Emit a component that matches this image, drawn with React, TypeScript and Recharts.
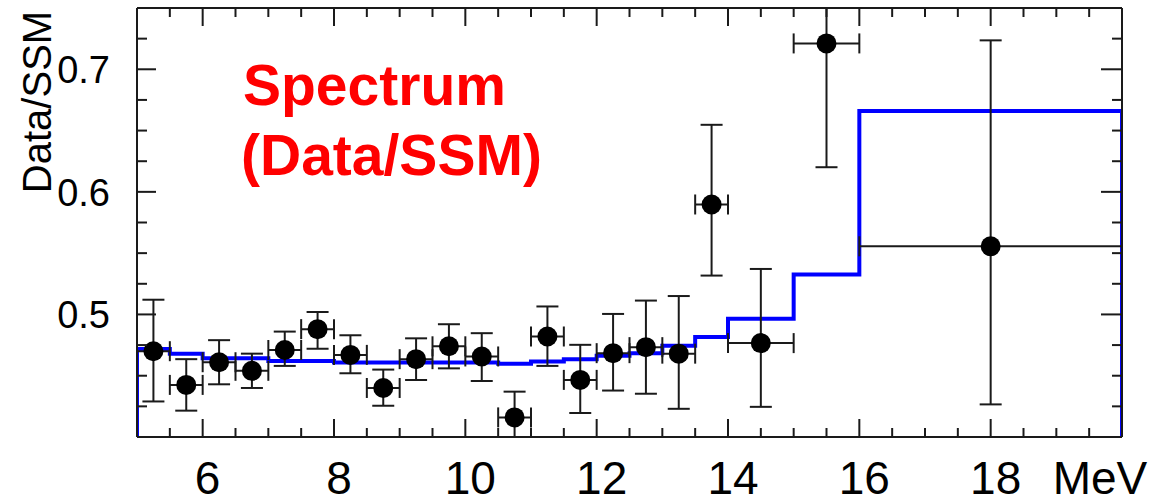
import {
  ComposedChart, Line, Scatter, ErrorBar, XAxis, YAxis,
} from 'recharts'

// energy bins (MeV) and measured Data/SSM ratio
const binCenters = [5.25, 5.75, 6.25, 6.75, 7.25, 7.75, 8.25, 8.75, 9.25, 9.75, 10.25, 10.75, 11.25, 11.75, 12.25, 12.75, 13.25, 13.75, 14.5, 15.5, 18]
const binHalfWidths = [0.25, 0.25, 0.25, 0.25, 0.25, 0.25, 0.25, 0.25, 0.25, 0.25, 0.25, 0.25, 0.25, 0.25, 0.25, 0.25, 0.25, 0.25, 0.5, 0.5, 2]
const ratio = [0.470, 0.4425, 0.461, 0.454, 0.471, 0.488, 0.467, 0.440, 0.4635, 0.474, 0.4657, 0.416, 0.482, 0.4466, 0.4684, 0.4733, 0.468, 0.5897, 0.4766, 0.7211, 0.5556]
const errLow = [0.041, 0.021, 0.018, 0.014, 0.013, 0.016, 0.015, 0.0145, 0.017, 0.018, 0.020, 0.021, 0.024, 0.027, 0.0305, 0.038, 0.045, 0.058, 0.052, 0.101, 0.129]
const errHigh = [0.042, 0.021, 0.018, 0.014, 0.015, 0.014, 0.016, 0.015, 0.017, 0.018, 0.019, 0.021, 0.0245, 0.0286, 0.032, 0.038, 0.047, 0.065, 0.0605, 0.10, 0.168]

// SSM expectation histogram (bin lower edges + value)
const ssmEdges = [5, 5.5, 6, 6.5, 7, 7.5, 8, 8.5, 9, 9.5, 10, 10.5, 11, 11.5, 12, 12.5, 13, 13.5, 14, 15, 16]
const ssmValues = [0.4717, 0.4679, 0.4643, 0.4643, 0.4621, 0.4621, 0.4608, 0.4608, 0.4608, 0.4608, 0.4608, 0.4597, 0.4615, 0.4635, 0.4662, 0.4684, 0.4744, 0.4815, 0.4965, 0.5325, 0.666]

const xDomain = [5, 20]
const yDomain = [0.4, 0.75]
const xTicks = [5.5, 6, 6.5, 7, 7.5, 8, 8.5, 9, 9.5, 10, 10.5, 11, 11.5, 12, 12.5, 13, 13.5, 14, 14.5, 15, 15.5, 16, 16.5, 17, 17.5, 18, 18.5, 19, 19.5]
const xLabels = [6, 8, 10, 12, 14, 16, 18]
const yTicks = [0.425, 0.45, 0.475, 0.5, 0.525, 0.55, 0.575, 0.6, 0.625, 0.65, 0.675, 0.7, 0.725]
const yLabels = [0.5, 0.6, 0.7]

// error bars stop at the frame, like the original plot
const points = binCenters.map((x, i) => ({
  x,
  y: ratio[i],
  ex: binHalfWidths[i],
  ey: [Math.min(errLow[i], ratio[i] - yDomain[0]), Math.min(errHigh[i], yDomain[1] - ratio[i])],
}))

const ssmLine = [
  { x: xDomain[0], y: yDomain[0] },
  ...ssmEdges.map((e, i) => ({ x: e, y: ssmValues[i] })),
  { x: xDomain[1], y: ssmValues[ssmValues.length - 1] },
  { x: xDomain[1], y: yDomain[0] },
]

const FONT = '"Liberation Sans", Arial, sans-serif'
const INK = '#1a1a1a'
const isLabelY = (v: number) => yLabels.some(l => Math.abs(l - v) < 1e-6)

const BottomTick = ({ x, y, payload }: any) => {
  const major = xLabels.includes(payload.value)
  return (
    <g>
      <line x1={x} y1={y} x2={x} y2={y - (major ? 18 : 9)} stroke={INK} strokeWidth={2} />
      {major && (
        <text x={x + 5} y={y + 57} textAnchor="middle" fontSize={46} fontFamily={FONT} fill="#000">
          {payload.value}
        </text>
      )}
    </g>
  )
}

const TopTick = ({ x, y, payload }: any) => {
  const major = xLabels.includes(payload.value)
  return <line x1={x} y1={y} x2={x} y2={y + (major ? 18 : 9)} stroke={INK} strokeWidth={2} />
}

const LeftTick = ({ x, y, payload }: any) => {
  const major = isLabelY(payload.value)
  return (
    <g>
      <line x1={x} y1={y} x2={x + (major ? 19 : 10)} y2={y} stroke={INK} strokeWidth={2} />
      {major && (
        <text x={x - 27} y={y} dy="0.36em" textAnchor="end" fontSize={38} fontFamily={FONT} fill="#000">
          {payload.value.toFixed(1)}
        </text>
      )}
    </g>
  )
}

const RightTick = ({ x, y, payload }: any) => {
  const major = isLabelY(payload.value)
  return <line x1={x} y1={y} x2={x - (major ? 21 : 10)} y2={y} stroke={INK} strokeWidth={2} />
}

export default function App() {
  return (
    <div style={{ position: 'absolute', left: 0, top: 0, width: 1173, height: 504, background: '#fff' }}>
      <ComposedChart width={1173} height={504} margin={{ top: 7, right: 50, bottom: 66, left: 136 }}>
        <XAxis xAxisId="b" dataKey="x" type="number" domain={xDomain} allowDataOverflow ticks={xTicks}
          interval={0} height={1} tickSize={0} tickMargin={0} tick={<BottomTick />}
          axisLine={{ stroke: INK, strokeWidth: 2 }} />
        <XAxis xAxisId="t" dataKey="x" type="number" orientation="top" domain={xDomain} allowDataOverflow
          ticks={xTicks} interval={0} height={1} tickSize={0} tickMargin={0} tick={<TopTick />}
          axisLine={{ stroke: INK, strokeWidth: 2 }} />
        <YAxis yAxisId="l" dataKey="y" type="number" domain={yDomain} allowDataOverflow ticks={yTicks}
          interval={0} width={1} tickSize={0} tickMargin={0} tick={<LeftTick />}
          axisLine={{ stroke: INK, strokeWidth: 2 }} />
        <YAxis yAxisId="r" dataKey="y" type="number" orientation="right" domain={yDomain} allowDataOverflow
          ticks={yTicks} interval={0} width={1} tickSize={0} tickMargin={0} tick={<RightTick />}
          axisLine={{ stroke: INK, strokeWidth: 2 }} />
        <Line xAxisId="t" yAxisId="r" data={ssmLine} dataKey="y" type="stepAfter" stroke="#0000ff"
          strokeWidth={4} dot={false} activeDot={false} isAnimationActive={false} />
        <Scatter xAxisId="b" yAxisId="l" data={points} dataKey="y" isAnimationActive={false}
          shape={(p: any) => <circle cx={p.cx} cy={p.cy} r={10} fill="#000" />}>
          <ErrorBar dataKey="ex" direction="x" width={10} stroke={INK} strokeWidth={2} />
          <ErrorBar dataKey="ey" direction="y" width={11} stroke={INK} strokeWidth={2} />
        </Scatter>
      </ComposedChart>
      <svg width={1173} height={504} style={{ position: 'absolute', left: 0, top: 0, pointerEvents: 'none' }}>
        <text x={37} y={102} transform="rotate(-90 37 102)" textAnchor="middle" dominantBaseline="central"
          fontSize={40} fontFamily={FONT} fill="#000">Data/SSM</text>
        <text x={1100} y={494} textAnchor="middle" fontSize={46} fontFamily={FONT} fill="#000">MeV</text>
        <text x={243} y={105} fontSize={57} fontWeight="bold" fontFamily={FONT} fill="#ff0000">Spectrum</text>
        <text x={241} y={175} fontSize={57} fontWeight="bold" fontFamily={FONT} fill="#ff0000">(Data/SSM)</text>
      </svg>
    </div>
  )
}
